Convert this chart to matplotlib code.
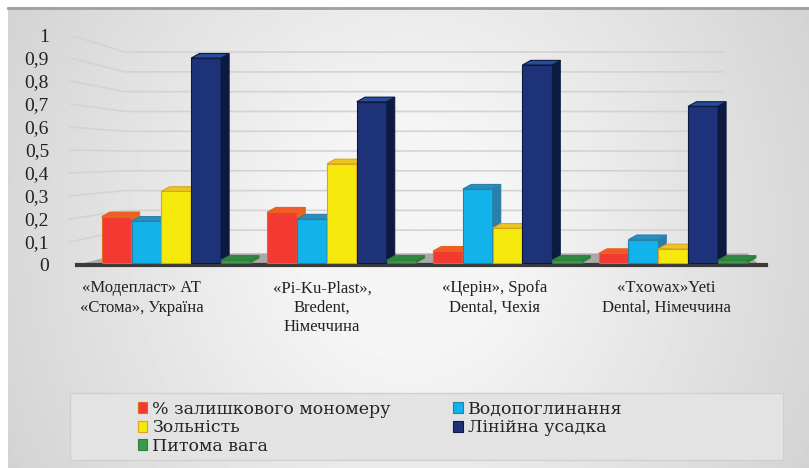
import numpy as np
import matplotlib
matplotlib.use('Agg')
from matplotlib import pyplot as plt
from matplotlib.patches import Polygon, Rectangle

categories = ['«Модепласт» АТ\n«Стома», Україна',
              '«Pi-Ku-Plast»,\nBredent,\nНімеччина',
              '«Церін», Spofa\nDental, Чехія',
              '«Txowax»Yeti\nDental, Німеччина']
series_names = ['% залишкового мономеру', 'Водопоглинання', 'Зольність',
                'Лінійна усадка', 'Питома вага']
monomer = [0.20, 0.22, 0.05, 0.04]
water = [0.18, 0.19, 0.32, 0.10]
ash = [0.31, 0.43, 0.15, 0.06]
shrink = [0.89, 0.70, 0.86, 0.68]
density = [0.01, 0.01, 0.01, 0.01]
yticks = [0, 0.1, 0.2, 0.3, 0.4, 0.5, 0.6, 0.7, 0.8, 0.9, 1]

series = [monomer, water, ash, shrink, density]
colors = ['#f23a33', '#12b2ea', '#f6ea0c', '#1d3278', '#3a9a4c']
edges = ['#e8661c', '#2a7fa8', '#e0a020', '#0c1a40', '#2f7d3b']
tops = ['#f25a2a', '#2a8fc0', '#e8c820', '#2a4a9a', '#2f8a40']

fam = 'Liberation Serif'
plt.rcParams['font.family'] = fam

fig = plt.figure(figsize=(8.09, 4.68), dpi=100)

# background gradient
bg = fig.add_axes([0, 0, 1, 1], zorder=-10)
xx, yy = np.meshgrid(np.linspace(-1, 1, 400), np.linspace(-1, 1, 240))
g = 0.96 - 0.16 * np.clip(np.sqrt((xx * 0.95) ** 2 + (yy * 0.5) ** 2) - 0.25, 0, 1)
bg.imshow(g, cmap='gray', vmin=0, vmax=1, aspect='auto',
          extent=[0.01, 1, 0, 0.983])
bg.set_xlim(0, 1)
bg.set_ylim(0, 1)
bg.plot([0.01, 1], [0.983, 0.983], color='#a0a0a0', lw=2)
bg.add_patch(Rectangle((0.087, 0.017), 0.881, 0.143, facecolor='#e3e3e3',
                       edgecolor='#d0d0d0', lw=1))
bg.axis('off')

ax = fig.add_axes([0.095, 0.434, 0.86, 0.491])
ax.patch.set_alpha(0)
x = np.arange(len(categories))
w = 0.18
dx, dy = 0.05, 0.02

ax.set_xlim(-0.6, 3.6)
ax.set_ylim(0, 1)
# back wall gridlines (perspective: back wall slightly shrunk)
for t in yticks[1:]:
    yb = 0.065 + 0.861 * t
    ax.plot([-0.64, -0.31, 3.3], [t, yb, yb], color='#d3d3d3', lw=1.2,
            zorder=0, clip_on=False)

# floor
floor = Polygon([[-0.6, 0], [3.52, 0], [3.45, 0.05], [-0.33, 0.05]],
                closed=True, facecolor='#a9a9a9', edgecolor='none', zorder=1)
ax.add_patch(floor)
ax.plot([-0.6, 3.56], [0, 0], color='#3a3a3a', lw=3, zorder=2, clip_on=False)

offsets = (np.arange(5) - 2) * w
for i, (vals, c, e) in enumerate(zip(series, colors, edges)):
    xs = x + offsets[i]
    ax.bar(xs, vals, width=w, bottom=0.01, color=c, edgecolor=e, lw=0.8,
           zorder=3 + i, label=series_names[i])
    for xi, v in zip(xs, vals):
        l, r = xi - w / 2, xi + w / 2
        v = v + 0.01
        top = Polygon([[l, v], [r, v], [r + dx, v + dy], [l + dx, v + dy]],
                      closed=True, facecolor=tops[i], edgecolor=e, lw=0.8, zorder=3 + i)
        side = Polygon([[r, 0.01], [r + dx, 0.01 + dy], [r + dx, v + dy], [r, v]],
                       closed=True, facecolor=e, edgecolor=e, lw=0.5, zorder=3 + i)
        ax.add_patch(side)
        ax.add_patch(top)

ax.set_yticks(yticks)
ax.set_yticklabels([('%g' % t).replace('.', ',') for t in yticks], fontsize=14,
                   family=fam, color='#222222')
# category labels sit a little left of the bars (3D perspective)
label_shift = np.array([0.21, 0.12, 0.08, 0.04])
ax.set_xticks(x - label_shift)
ax.set_xticklabels(categories, fontsize=12, linespacing=1.3, family=fam,
                   color='#222222')
ax.tick_params(length=0)
ax.tick_params(axis='x', pad=11)
ax.tick_params(axis='y', pad=20)
for s in ax.spines.values():
    s.set_visible(False)

h, lb = ax.get_legend_handles_labels()
order = [0, 2, 4, 1, 3]
leg = fig.legend([h[k] for k in order], [lb[k] for k in order], ncol=2,
                 loc='upper left', bbox_to_anchor=(0.155, 0.17),
                 prop={'family': 'DejaVu Serif', 'size': 12.5}, frameon=False,
                 handlelength=0.55, handleheight=0.6, handletextpad=0.3,
                 labelspacing=0.1, borderpad=0.2, columnspacing=3.6)
for t in leg.get_texts():
    t.set_color('#222222')

fig.savefig('out.png', dpi=100)
